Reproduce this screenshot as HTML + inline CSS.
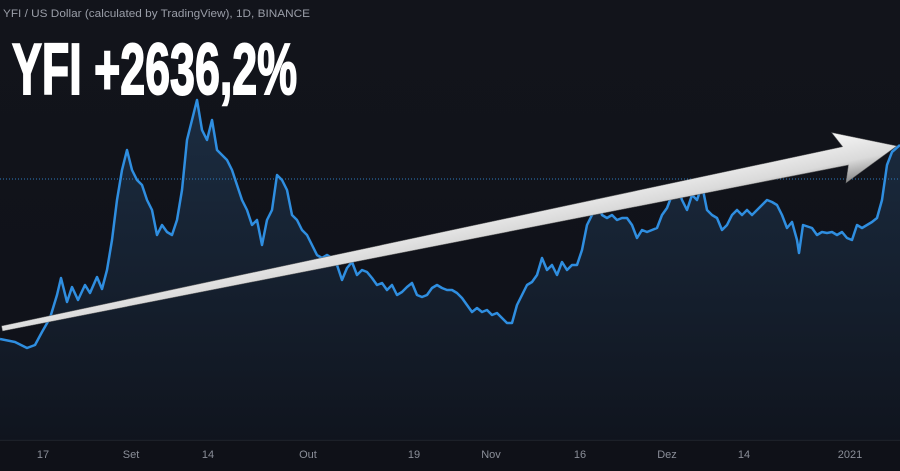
<!DOCTYPE html>
<html><head><meta charset="utf-8"><style>
html,body{margin:0;padding:0;background:#131722;}
svg{display:block}
</style></head><body>
<svg width="900" height="471" viewBox="0 0 900 471" xmlns="http://www.w3.org/2000/svg">
<defs>
<linearGradient id="bg" x1="0" y1="0" x2="0" y2="1">
<stop offset="0" stop-color="#12141b"/><stop offset="1" stop-color="#0f1119"/>
</linearGradient>
<linearGradient id="fill" x1="0" y1="0" x2="0" y2="1">
<stop offset="0" stop-color="#1d3148"/><stop offset="1" stop-color="#10151f"/>
</linearGradient>
<linearGradient id="arr" x1="0" y1="0" x2="0" y2="1">
<stop offset="0" stop-color="#f6f6f6"/><stop offset="0.6" stop-color="#dadada"/><stop offset="1" stop-color="#8a8a8a"/>
</linearGradient>
</defs>
<rect width="900" height="471" fill="url(#bg)"/>
<rect y="440" width="900" height="31" fill="#0f1118"/>
<line x1="0" y1="440" x2="900" y2="440" stroke="#2a2e39" stroke-width="1"/>
<path id="area" d="M0,339 L15,342 L27,348 L35,345 L42,332 L50,318 L57,295 L61,278 L67,302 L72,287 L78,300 L85,285 L90,293 L97,277 L102,289 L107,270 L112,240 L117,200 L122,170 L127,150 L132,170 L137,180 L142,185 L147,200 L152,210 L157,235 L162,225 L167,232 L172,235 L177,220 L182,190 L187,140 L192,120 L197,100 L202,130 L207,140 L212,120 L217,150 L222,155 L227,160 L232,170 L237,185 L242,200 L247,210 L252,225 L257,220 L262,245 L267,220 L272,210 L277,175 L282,180 L287,190 L292,215 L297,220 L302,230 L307,235 L312,245 L317,255 L322,258 L327,255 L332,258 L337,265 L342,280 L347,268 L352,262 L357,275 L362,270 L367,272 L372,278 L377,285 L382,283 L387,290 L392,285 L397,295 L402,292 L407,287 L412,283 L417,295 L422,297 L427,295 L432,288 L437,285 L442,288 L447,290 L452,290 L457,293 L462,298 L467,305 L472,312 L477,308 L482,312 L487,310 L492,315 L497,313 L502,318 L507,323 L512,323 L517,305 L522,295 L527,285 L532,282 L537,275 L542,258 L547,270 L552,265 L557,275 L562,262 L567,270 L572,265 L577,265 L582,250 L587,225 L592,215 L597,200 L602,215 L607,218 L612,215 L617,220 L622,218 L627,218 L632,225 L637,238 L642,230 L647,232 L652,230 L657,228 L662,215 L667,208 L672,195 L677,185 L682,200 L687,210 L692,195 L697,200 L702,185 L707,210 L712,215 L717,218 L722,230 L727,225 L732,215 L737,210 L742,215 L747,210 L752,215 L757,210 L762,205 L767,200 L772,202 L777,205 L782,215 L787,228 L792,222 L797,240 L799,253 L803,225 L812,228 L817,235 L822,232 L827,233 L832,232 L837,235 L842,232 L847,238 L852,240 L857,225 L862,228 L867,225 L872,222 L877,218 L882,200 L887,165 L892,152 L900,145" fill="none"/>
<path d="M0,339 L15,342 L27,348 L35,345 L42,332 L50,318 L57,295 L61,278 L67,302 L72,287 L78,300 L85,285 L90,293 L97,277 L102,289 L107,270 L112,240 L117,200 L122,170 L127,150 L132,170 L137,180 L142,185 L147,200 L152,210 L157,235 L162,225 L167,232 L172,235 L177,220 L182,190 L187,140 L192,120 L197,100 L202,130 L207,140 L212,120 L217,150 L222,155 L227,160 L232,170 L237,185 L242,200 L247,210 L252,225 L257,220 L262,245 L267,220 L272,210 L277,175 L282,180 L287,190 L292,215 L297,220 L302,230 L307,235 L312,245 L317,255 L322,258 L327,255 L332,258 L337,265 L342,280 L347,268 L352,262 L357,275 L362,270 L367,272 L372,278 L377,285 L382,283 L387,290 L392,285 L397,295 L402,292 L407,287 L412,283 L417,295 L422,297 L427,295 L432,288 L437,285 L442,288 L447,290 L452,290 L457,293 L462,298 L467,305 L472,312 L477,308 L482,312 L487,310 L492,315 L497,313 L502,318 L507,323 L512,323 L517,305 L522,295 L527,285 L532,282 L537,275 L542,258 L547,270 L552,265 L557,275 L562,262 L567,270 L572,265 L577,265 L582,250 L587,225 L592,215 L597,200 L602,215 L607,218 L612,215 L617,220 L622,218 L627,218 L632,225 L637,238 L642,230 L647,232 L652,230 L657,228 L662,215 L667,208 L672,195 L677,185 L682,200 L687,210 L692,195 L697,200 L702,185 L707,210 L712,215 L717,218 L722,230 L727,225 L732,215 L737,210 L742,215 L747,210 L752,215 L757,210 L762,205 L767,200 L772,202 L777,205 L782,215 L787,228 L792,222 L797,240 L799,253 L803,225 L812,228 L817,235 L822,232 L827,233 L832,232 L837,235 L842,232 L847,238 L852,240 L857,225 L862,228 L867,225 L872,222 L877,218 L882,200 L887,165 L892,152 L900,145 L900,440 L0,440 Z" fill="url(#fill)" opacity="0.85"/>
<line x1="0" y1="179" x2="900" y2="179" stroke="#2e7bbf" stroke-width="1" stroke-dasharray="1,2"/>
<use href="#area" stroke="#2f8ee0" stroke-width="2.5" stroke-linejoin="round"/>
<g transform="translate(2,328) rotate(-11.5)">
<polygon points="0,-2 860,-10 852,-26 913,0 856,26 862,9 0,3" fill="url(#arr)" stroke="#6d6d6d" stroke-width="0.5"/>
</g>
<text x="3" y="17" font-family="'Liberation Sans',sans-serif" font-size="11" fill="#9a9ea8" textLength="307" lengthAdjust="spacingAndGlyphs">YFI / US Dollar (calculated by TradingView), 1D, BINANCE</text>
<text x="12" y="94" font-family="'Liberation Sans Narrow','Liberation Sans',sans-serif" font-weight="bold" font-size="72" fill="#ffffff" stroke="#ffffff" stroke-width="2" textLength="285" lengthAdjust="spacingAndGlyphs">YFI +2636,2%</text>
<g font-family="'Liberation Sans',sans-serif" font-size="11" fill="#8a8e98" text-anchor="middle">
<text x="43" y="458">17</text><text x="131" y="458">Set</text><text x="208" y="458">14</text>
<text x="308" y="458">Out</text><text x="414" y="458">19</text><text x="491" y="458">Nov</text>
<text x="580" y="458">16</text><text x="667" y="458">Dez</text><text x="744" y="458">14</text>
<text x="850" y="458">2021</text>
</g>
</svg>
</body></html>
